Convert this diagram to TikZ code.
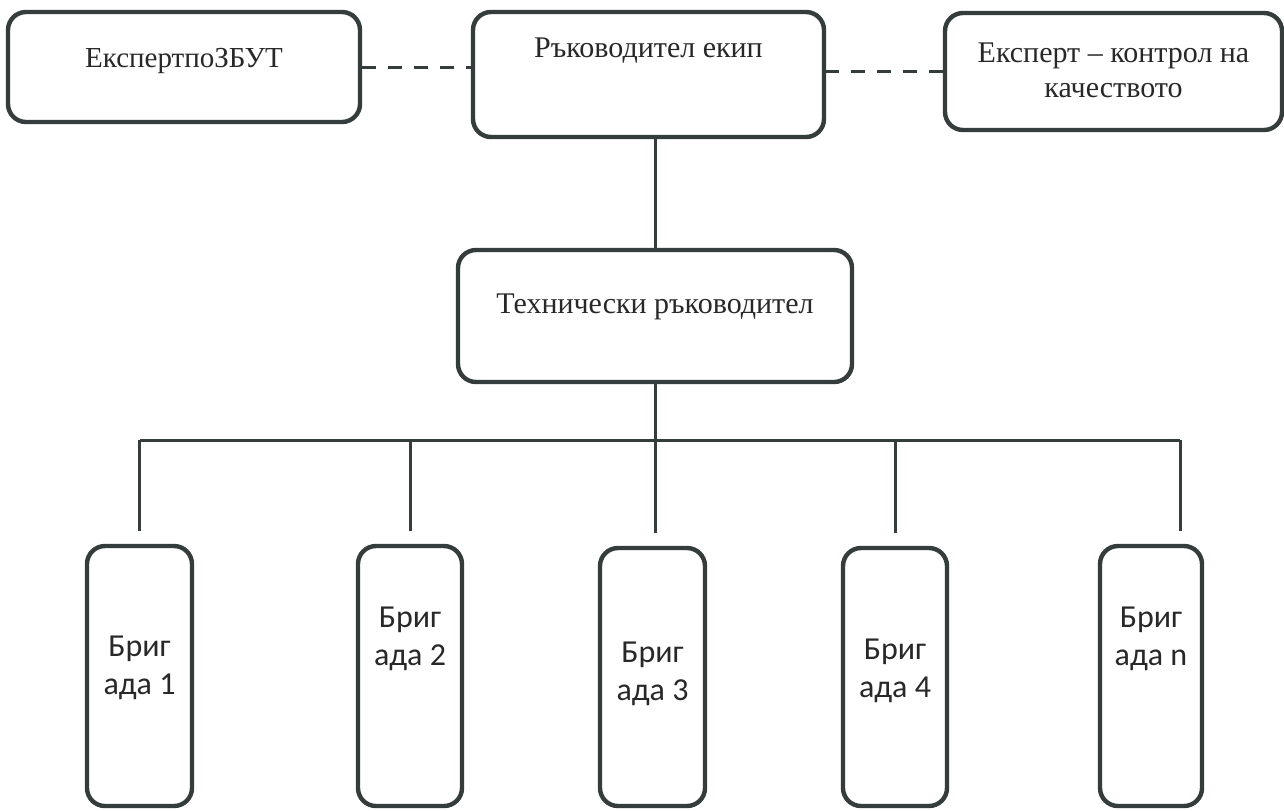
\documentclass[tikz,border=0pt]{standalone}
\usepackage{fontspec}
\setmainfont{Liberation Serif}
\newfontfamily\brigfont{Carlito}
\usepackage{tikz}
\usetikzlibrary{positioning,calc}

\definecolor{ink}{RGB}{52,60,60}
\definecolor{txt}{RGB}{40,40,40}

\begin{document}
\begin{tikzpicture}[x=0.5pt, y=-0.5pt, rounded corners=9pt, text=txt,
  box/.style={draw=ink, line width=2.2pt, anchor=base, align=center, inner ysep=0pt,
    font=\fontsize{15}{17.5}\selectfont},
  brig/.style={box, font=\brigfont\fontsize{16}{19}\selectfont},
  link/.style={draw=ink, line width=1.5pt, sharp corners},
  dlink/.style={link, dash pattern=on 7pt off 6pt},
  drop/.style={link, shorten >=6.5pt}]

\useasboundingbox[fill=white] (0,0) rectangle (1284,810);

% top level
\node (zbut) [box, minimum width=176pt, text height=27.5pt, text depth=27.5pt,
  font=\fontsize{14.5}{17.5}\selectfont] at (184,67) {ЕкспертпоЗБУТ};
\node (lead) [box, minimum width=175.5pt, text height=22.5pt, text depth=40pt] at (648.5,57) {Ръководител екип};
\node (qc) [box, minimum width=168.5pt, text height=42pt, text depth=16.5pt] at (1113.5,97) {Експерт – контрол на\\качеството};

\node (tech) [box, minimum width=197pt, text height=31.5pt, text depth=34.5pt] at (655,313) {Технически ръководител};

% brigades
\node (b1) [brig, minimum width=52.5pt, text height=74pt, text depth=56pt] at (139.5,694) {Бриг\\ада 1};
\node (b2) [brig, minimum width=52pt, text height=59.5pt, text depth=70.5pt] at (410,665) {Бриг\\ада 2};
\node (b3) [brig, minimum width=52.5pt, text height=76pt, text depth=53pt] at (652.5,700) {Бриг\\ада 3};
\node (b4) [brig, minimum width=52pt, text height=74.5pt, text depth=54.5pt] at (895,697) {Бриг\\ада 4};
\node (bn) [brig, minimum width=51pt, text height=59.5pt, text depth=70.5pt] at (1151,665) {Бриг\\ада n};

\coordinate (bus) at (655,440);
\coordinate (bnjoin) at ([xshift=14.5pt]bn.north);

\draw[dlink] (zbut.east) -- (zbut.east -| lead.west);
\draw[dlink] (qc.west) -- (qc.west -| lead.east);
\draw[link] (tech.north) -- (tech.north |- lead.south);

\draw[drop] (tech.south) -- (tech.south |- b3.north);
\draw[link] (b1.north |- bus) -- (bnjoin |- bus);
\foreach \b in {b1,b2,b4}
  \draw[drop] (\b.north |- bus) -- (\b.north);
\draw[drop] (bnjoin |- bus) -- (bnjoin);

\end{tikzpicture}
\end{document}
